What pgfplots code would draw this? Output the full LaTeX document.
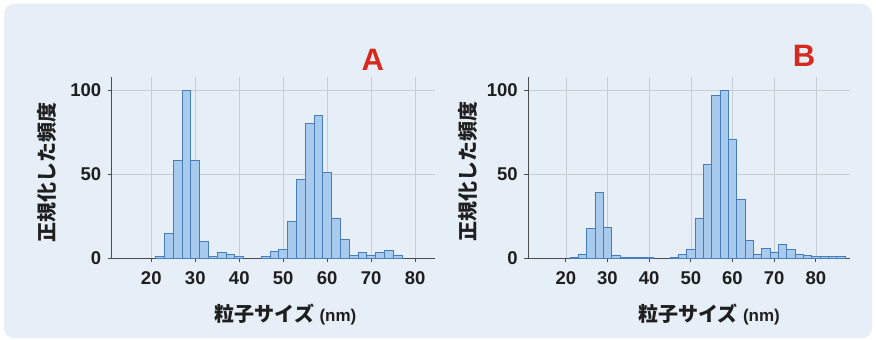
\documentclass[border=0pt]{standalone}
\usepackage{fontspec}
\setmainfont{Liberation Sans}
\newfontfamily\jp{Noto Sans CJK JP}
\usepackage{pgfplots}
\usepackage{pgfplotstable}
\pgfplotsset{compat=1.18}
\definecolor{bg}{RGB}{230,238,247}
\definecolor{barfill}{RGB}{168,202,236}
\definecolor{baredge}{RGB}{72,125,188}
\definecolor{gridc}{RGB}{200,205,212}
\definecolor{axc}{RGB}{75,75,75}
\definecolor{lettc}{RGB}{214,42,32}

\pgfplotstableread{
x y
22 1
24 15
26 58
28 100
30 58
32 10
34 1
36 3.5
38 2.5
40 1
46 1
48 4
50 5
52 22
54 47
56 80
58 85
60 51
62 24
64 11
66 1.5
68 3.5
70 2
72 3.5
74 4.5
76 2
}\dataA

\pgfplotstableread{
x y
22 0.5
24 2.5
26 17.5
28 39
30 18.5
32 2
34 0.5
36 0.5
38 0.5
40 0.3
46 0.5
48 2.5
50 5.5
52 24
54 56
56 97
58 100
60 71
62 35
64 10.5
66 2.5
68 6
70 3.8
72 8
74 5.4
76 2.4
78 1.5
80 1
82 1
84 1
86 1
}\dataB

\pgfplotsset{histo/.style={
  scale only axis, height=181.6pt,
  ymin=0, ymax=108, clip=false,
  axis x line=bottom, axis y line=left,
  axis line style={-, draw=axc, line width=1.3pt},
  xtick={20,30,...,80}, ytick={0,50,100},
  tick align=outside, major tick length=4pt,
  tick style={draw=axc, line width=0.8pt},
  xmajorgrids, ymajorgrids, grid style={draw=gridc, line width=0.6pt},
  ticklabel style={font=\fontsize{18.5}{18.5}\selectfont\bfseries, text=black!88},
  xticklabel style={yshift=-6pt},
  yticklabel style={xshift=-3pt},
  /pgf/number format/assume math mode=true,
  xlabel={{\jp\bfseries 粒子サイズ} \bfseries\fontsize{17}{17}\selectfont(nm)},
  ylabel={\jp\bfseries 正規化した頻度},
  label style={font=\fontsize{20}{20}\selectfont, text=black!88},
  ybar, bar width=2,
}}

\begin{document}
\begin{tikzpicture}[x=1pt,y=1pt]
\useasboundingbox (0,0) rectangle (876,340);
\fill[white] (0,0) rectangle (876,340);
\fill[bg, rounded corners=10pt] (4,2) rectangle (872,336);

\begin{axis}[histo, width=323.3pt, at={(111.7pt,81.7pt)}, anchor=south west,
  xmin=11, xmax=84.5,
  xlabel style={at={(axis description cs:0.5376,-0.307)}, anchor=center},
  ylabel style={at={(axis description cs:-0.2,0.47)}, anchor=center}]
\addplot[fill=barfill, draw=baredge, line width=0.8pt] table[x=x,y=y] {\dataA};
\node[font=\fontsize{31}{31}\selectfont\bfseries, text=lettc] at (axis description cs:0.808,1.092) {A};
\end{axis}

\begin{axis}[histo, width=321.7pt, at={(528.3pt,81.7pt)}, anchor=south west,
  xmin=11, xmax=88.2,
  xlabel style={at={(axis description cs:0.5617,-0.307)}, anchor=center},
  ylabel style={at={(axis description cs:-0.1875,0.48)}, anchor=center}]
\addplot[fill=barfill, draw=baredge, line width=0.8pt] table[x=x,y=y] {\dataB};
\node[font=\fontsize{31}{31}\selectfont\bfseries, text=lettc] at (axis description cs:0.857,1.114) {B};
\end{axis}
\end{tikzpicture}
\end{document}
